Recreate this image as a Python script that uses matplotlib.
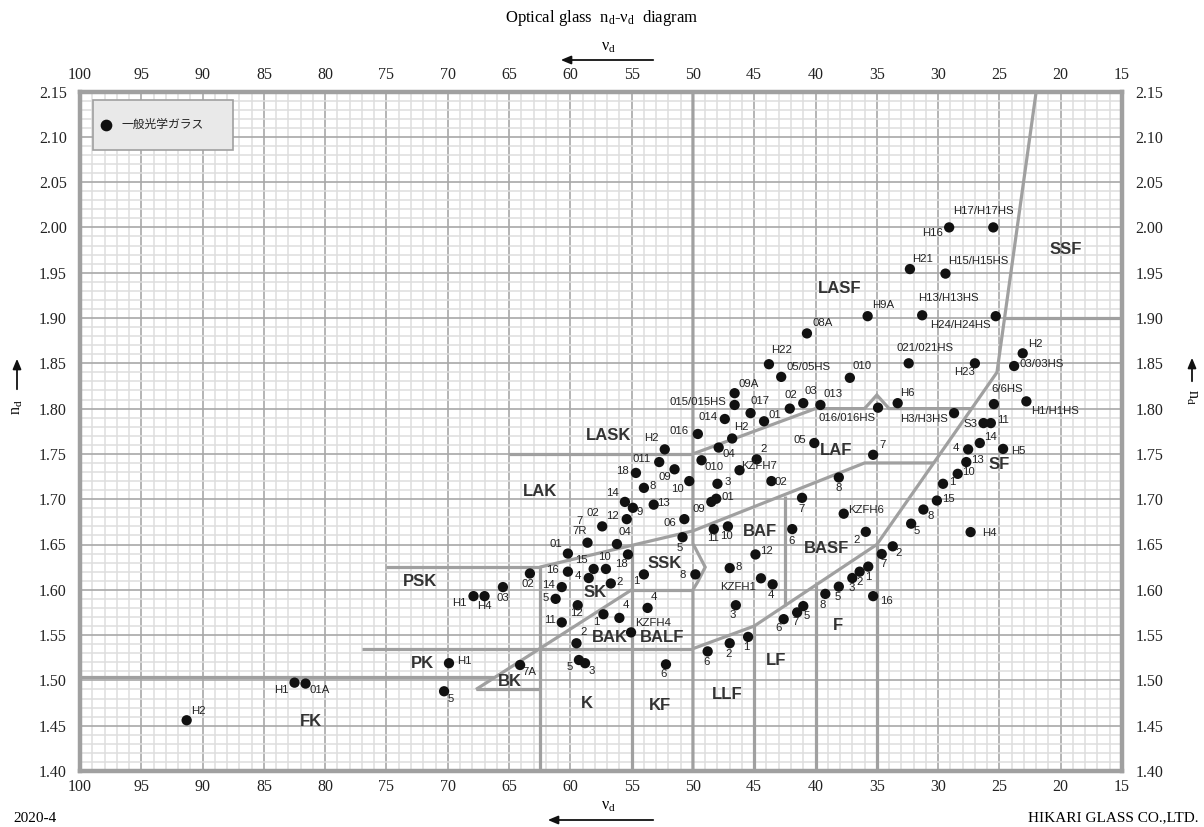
import matplotlib
matplotlib.use('Agg')
import matplotlib.pyplot as plt
from matplotlib.ticker import MultipleLocator, FormatStrFormatter
import matplotlib.patches as mpatches

plt.rcParams['mathtext.default'] = 'regular'

# ---------------- data ----------------
glass_labels = [
    "H17/H17HS", "H16", "H21", "H15/H15HS", "H13/H13HS", "H24/H24HS", "H9A", "08A",
    "021/021HS", "H23", "H2", "03/03HS", "H22", "05/05HS", "010", "09A", "015/015HS",
    "017", "02", "03", "013", "01", "016/016HS", "H6", "6/6HS", "H1/H1HS", "H3/H3HS",
    "S3", "11", "014", "016", "H2", "H2", "04", "05", "7", "2", "KZFH7", "02", "8",
    "011", "18", "09", "010", "10", "3", "8", "14", "9", "13", "02", "12", "7\n7R",
    "04", "01", "09", "01", "06", "5", "11", "10", "7", "6", "KZFH6", "2", "12", "8",
    "KZFH1", "4", "3", "8",
    "18", "15", "10", "16", "4", "2", "1", "02", "14", "5", "03", "H1", "H4", "12",
    "11", "1", "4", "4", "KZFH4", "2", "5", "3", "H1", "7A", "5", "H1", "01A", "H2",
    "1", "2", "3", "5", "8", "16", "5", "7", "6", "1", "2", "6", "6", "7", "2",
    "14", "4", "H5", "13", "10", "1", "15", "8", "5", "H4",
]
glass_nu = [
    25.5, 29.1, 32.3, 29.4, 31.3, 25.3, 35.75, 40.7,
    32.4, 27.0, 23.1, 23.8, 43.8, 42.8, 37.2, 46.6, 46.6,
    45.3, 42.1, 41.0, 39.6, 44.2, 34.9, 33.3, 25.45, 22.8, 28.7,
    26.3, 25.7, 47.4, 49.6, 46.8, 52.3, 47.9, 40.1, 35.3, 44.8, 46.2, 43.6, 38.1,
    52.75, 54.65, 51.5, 49.3, 50.3, 48.0, 54.0, 55.55, 54.9, 53.2, 57.4, 55.4, 58.6,
    56.2, 60.2, 48.5, 48.1, 50.7, 50.85, 48.3, 47.15, 41.1, 41.9, 37.7, 35.9, 44.9, 47.0,
    44.45, 43.5, 46.5, 49.8,
    55.3, 58.1, 57.1, 60.2, 58.5, 56.7, 54.0, 63.3, 60.7, 61.2, 65.5, 67.9, 67.0, 59.4,
    60.7, 57.3, 56.0, 53.7, 55.05, 59.5, 59.3, 58.8, 69.9, 64.1, 70.3, 82.5, 81.6, 91.3,
    35.7, 36.4, 37.0, 38.1, 39.2, 35.3, 41.0, 41.5, 42.6, 45.5, 47.0, 48.8, 52.2, 34.6, 33.7,
    26.6, 27.55, 24.7, 27.7, 28.4, 29.6, 30.1, 31.2, 32.2, 27.35,
]
glass_nd = [
    2.000, 2.000, 1.954, 1.949, 1.903, 1.902, 1.902, 1.883,
    1.850, 1.850, 1.861, 1.847, 1.849, 1.835, 1.834, 1.817, 1.804,
    1.795, 1.800, 1.806, 1.804, 1.786, 1.801, 1.806, 1.805, 1.808, 1.795,
    1.784, 1.784, 1.7885, 1.772, 1.767, 1.755, 1.757, 1.762, 1.749, 1.744, 1.732, 1.720, 1.724,
    1.741, 1.729, 1.733, 1.743, 1.720, 1.717, 1.7125, 1.697, 1.6905, 1.694, 1.670, 1.678, 1.652,
    1.6505, 1.640, 1.697, 1.7005, 1.678, 1.658, 1.667, 1.670, 1.7015, 1.667, 1.684, 1.664, 1.639, 1.624,
    1.6127, 1.606, 1.583, 1.617,
    1.639, 1.623, 1.623, 1.620, 1.613, 1.607, 1.617, 1.618, 1.603, 1.590, 1.603, 1.593, 1.593, 1.583,
    1.564, 1.573, 1.569, 1.580, 1.553, 1.541, 1.5225, 1.519, 1.519, 1.517, 1.488, 1.4975, 1.4965, 1.456,
    1.6256, 1.620, 1.613, 1.6035, 1.5955, 1.593, 1.582, 1.575, 1.5676, 1.548, 1.541, 1.532, 1.5177, 1.6395, 1.648,
    1.762, 1.755, 1.7555, 1.741, 1.728, 1.717, 1.6985, 1.6886, 1.673, 1.6637,
]
# label placement (pixel offset of label centre from the dot; +y = down)
label_offsets = [
    (-10, -16), (-17, 6), (13, -10), (33, -13), (26, -17), (-35, 9), (16, -11), (16, -10),
    (16, -15), (-10, 9), (13, -9), (28, -2), (13, -14), (27, -10), (12, -12), (14, -9), (-37, -3),
    (10, -12), (1, -14), (8, -12), (13, -11), (11, -6), (-31, 10), (10, -10), (13, -15), (29, 10), (-30, 6),
    (-13, 1), (12, -3), (-17, -2), (-19, -3), (9, -11), (-13, -11), (10, 6), (-14, -3), (9, -10), (7, -10), (20, -4), (9, 1), (0, 11),
    (-18, -3), (-13, -2), (-10, 8), (13, 7), (-12, 8), (10, -2), (9, -2), (-12, -9), (7, 4), (10, -2), (-9, -13), (-14, -3), (-8, -17),
    (8, -12), (-12, -10), (-12, 7), (12, -2), (-14, 4), (-3, 11), (-1, 9), (-1, 10), (0, 11), (-1, 12), (22, -4), (-9, 8), (11, -3), (9, -1),
    (-23, 9), (-2, 11), (-3, 10), (-13, 1),
    (-7, 10), (-12, -9), (-1, -12), (-15, -2), (-11, -2), (9, -1), (-8, 7), (-2, 11), (-13, -2), (-10, -1), (0, 11), (-14, 7), (0, 10), (-1, 8),
    (-12, -2), (-7, 8), (6, -13), (6, -11), (22, -9), (7, -11), (-9, 7), (7, 8), (15, -2), (9, 7), (7, 8), (-13, 7), (14, 6), (12, -9),
    (0, 10), (0, 10), (-1, 10), (-1, 10), (-3, 11), (13, 5), (3, 10), (-2, 10), (-5, 9), (-2, 10), (-1, 11), (-1, 11), (-2, 10), (2, 10), (6, 7),
    (11, -6), (-12, -1), (15, 2), (11, -2), (11, -2), (9, -2), (12, -2), (7, 6), (6, 7), (19, 1),
]

# glass-type region boundaries (nu_d, n_d)
fk_top_nu, fk_top_nd = [100, 66.2], [1.504, 1.504]
bk_base_nu, bk_base_nd = [67.7, 62.5], [1.49, 1.49]
bk_diag_nu, bk_diag_nd = [67.7, 55.0], [1.49, 1.60]
pk_top_nu, pk_top_nd = [77.0, 50.0], [1.535, 1.535]
psk_top_nu, psk_top_nd = [75.0, 62.5], [1.625, 1.625]
sk_top_nu, sk_top_nd = [62.5, 50.0, 36.0, 30.35], [1.625, 1.665, 1.74, 1.74]
lask_nu, lask_nd = [65.0, 50.0], [1.75, 1.75]
laf_nu, laf_nd = [50.0, 40.0, 36.0, 35.0, 34.0, 27.3], [1.75, 1.80, 1.80, 1.815, 1.80, 1.80]
sf_nu, sf_nd = [22.0, 25.2, 35.0, 45.0, 50.0], [2.15, 1.84, 1.65, 1.56, 1.535]
ssf_nu, ssf_nd = [24.6, 15.0], [1.90, 1.90]
v50_nu, v50_nd = [50, 50, 49.0, 49.6, 50, 50], [2.15, 1.651, 1.625, 1.609, 1.60, 1.40]
ssk_bot_nu, ssk_bot_nd = [55.0, 50.0], [1.60, 1.60]
v625_nu, v625_nd = [62.5, 62.5], [1.625, 1.40]
v55_nu, v55_nd = [55, 55], [1.649, 1.40]
v45_nu, v45_nd = [45, 45], [1.56, 1.40]
v425_nu, v425_nd = [42.5, 42.5], [1.704, 1.5825]
v40_nu, v40_nd = [40, 40], [1.605, 1.40]
v35_nu, v35_nd = [35, 35], [1.65, 1.40]

region_names = ["LASF", "SSF", "LASK", "LAK", "LAF", "PSK", "SSK", "SK", "BAF", "BASF",
                "F", "LF", "LLF", "BALF", "BAK", "K", "KF", "PK", "BK", "FK", "SF"]
region_nu = [38.0, 19.6, 56.9, 62.5, 38.3, 72.3, 52.3, 58.0, 44.5, 39.1,
             38.15, 43.2, 47.2, 52.55, 56.8, 58.65, 52.7, 72.1, 64.9, 81.2, 25.0]
region_nd = [1.933, 1.9755, 1.770, 1.709, 1.754, 1.609, 1.629, 1.597, 1.664, 1.6455,
             1.561, 1.5225, 1.4845, 1.547, 1.547, 1.474, 1.4727, 1.5188, 1.499, 1.455, 1.738]

x_ticks = [100, 95, 90, 85, 80, 75, 70, 65, 60, 55, 50, 45, 40, 35, 30, 25, 20, 15]
y_ticks = [1.40, 1.45, 1.50, 1.55, 1.60, 1.65, 1.70, 1.75, 1.80, 1.85, 1.90, 1.95, 2.00, 2.05, 2.10, 2.15]

# ---------------- figure ----------------
W, H = 1204, 827
fig = plt.figure(figsize=(W / 100, H / 100), dpi=100)
L, R, T, B = 80, 1122, 91.5, 771
ax = fig.add_axes([L / W, 1 - B / H, (R - L) / W, (B - T) / H])
ax.set_xlim(100, 15)
ax.set_ylim(1.40, 2.15)

serif = ['Liberation Serif', 'DejaVu Serif']
sans = ['Liberation Sans', 'DejaVu Sans']
narrow = ['Liberation Sans Narrow', 'Liberation Sans', 'DejaVu Sans']

ax.set_xticks(x_ticks)
ax.set_yticks(y_ticks)
ax.xaxis.set_minor_locator(MultipleLocator(1))
ax.yaxis.set_minor_locator(MultipleLocator(0.01))
ax.yaxis.set_major_formatter(FormatStrFormatter('%.2f'))
ax.tick_params(which='both', length=0, top=True, right=True, labeltop=True, labelright=True,
               labelsize=11.5, colors='#222222')
ax.tick_params(axis='x', which='major', pad=6)
ax.tick_params(axis='y', which='major', pad=9.5)
for lab in ax.get_xticklabels() + ax.get_yticklabels():
    lab.set_family(serif)

ax.grid(which='minor', color='#dedede', lw=1.1, zorder=0)
ax.grid(which='major', color='#a8a8a8', lw=1.2, zorder=0)
ax.set_axisbelow(True)
for s in ax.spines.values():
    s.set_color('#a0a0a0')
    s.set_linewidth(3.2)

bcol = '#a0a0a0'
blw = 2.3
for xs, ys in [(fk_top_nu, fk_top_nd), (bk_base_nu, bk_base_nd), (bk_diag_nu, bk_diag_nd),
               (pk_top_nu, pk_top_nd), (psk_top_nu, psk_top_nd), (sk_top_nu, sk_top_nd),
               (lask_nu, lask_nd), (laf_nu, laf_nd), (sf_nu, sf_nd), (ssf_nu, ssf_nd),
               (v50_nu, v50_nd), (ssk_bot_nu, ssk_bot_nd), (v625_nu, v625_nd), (v55_nu, v55_nd),
               (v45_nu, v45_nd), (v425_nu, v425_nd), (v40_nu, v40_nd), (v35_nu, v35_nd)]:
    ax.plot(xs, ys, color=bcol, lw=blw, solid_capstyle='butt', solid_joinstyle='miter', zorder=2)

# region names
for name, x, y in zip(region_names, region_nu, region_nd):
    ax.text(x, y, name, ha='center', va='center', fontsize=12, fontweight='bold',
            family=narrow, color='#333333', zorder=4)

# glass points
ax.scatter(glass_nu, glass_nd, s=55, color='#111111', edgecolors='none', zorder=5)
for name, x, y, (dx, dy) in zip(glass_labels, glass_nu, glass_nd, label_offsets):
    ax.annotate(name, (x, y), xytext=(dx * 0.72, -dy * 0.72), textcoords='offset points',
                ha='center', va='center', fontsize=8.2, family=sans, color='#222222',
                linespacing=1.0, zorder=6)

# legend box
ax.add_patch(mpatches.Rectangle((0.0125, 0.914), 0.1343, 0.0735, transform=ax.transAxes,
                                facecolor='#e9e9e9', edgecolor='#a0a0a0', lw=1.2, zorder=7))
ax.scatter([0.025], [0.951], s=55, color='#111111', transform=ax.transAxes, zorder=8, clip_on=False)
ax.text(0.040, 0.951, '一般光学ガラス', transform=ax.transAxes, ha='left', va='center',
        fontsize=8.5, family=['Noto Sans CJK JP', 'DejaVu Sans'], color='#222222', zorder=8)

# texts around
def fpx(x, y):
    return x / W, 1 - y / H

fig.text(*fpx(602, 18), 'Optical glass  n$_{d}$-ν$_{d}$  diagram', ha='center', va='center',
         fontsize=12, family=serif)
fig.text(*fpx(608, 47), 'ν$_{d}$', ha='center', va='center', fontsize=11.5, family=serif)
fig.text(*fpx(608, 806), 'ν$_{d}$', ha='center', va='center', fontsize=11.5, family=serif)
arrow = dict(arrowstyle='-|>,head_length=0.6,head_width=0.25', color='#111111', lw=1.3)
ax.annotate('', xy=(558, H - 60), xytext=(656, H - 60), xycoords='figure pixels',
            textcoords='figure pixels', arrowprops=arrow, annotation_clip=False)
ax.annotate('', xy=(545, H - 820), xytext=(656, H - 820), xycoords='figure pixels',
            textcoords='figure pixels', arrowprops=arrow, annotation_clip=False)
ax.annotate('', xy=(17, H - 356), xytext=(17, H - 392), xycoords='figure pixels',
            textcoords='figure pixels', arrowprops=arrow, annotation_clip=False)
ax.annotate('', xy=(1192, H - 355), xytext=(1192, H - 384), xycoords='figure pixels',
            textcoords='figure pixels', arrowprops=arrow, annotation_clip=False)
fig.text(*fpx(17, 407), 'n$_{d}$', ha='center', va='center', fontsize=11.5, family=serif, rotation=90)
fig.text(*fpx(1192, 397), 'n$_{d}$', ha='center', va='center', fontsize=11.5, family=serif, rotation=-90)
fig.text(*fpx(13, 818), '2020-4', ha='left', va='center', fontsize=11, family=serif)
fig.text(*fpx(1198, 818), 'HIKARI GLASS CO.,LTD.', ha='right', va='center', fontsize=11, family=serif)

fig.savefig('out.png', dpi=100)
